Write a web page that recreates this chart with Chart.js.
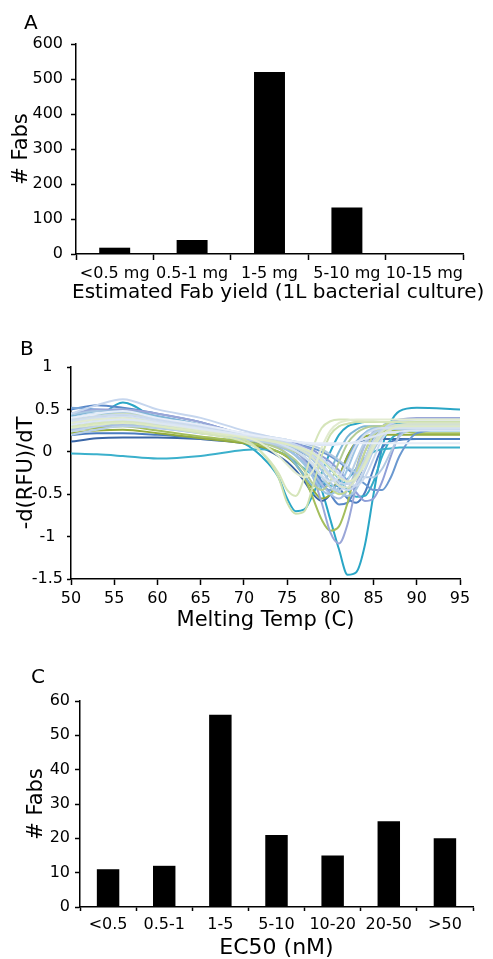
<!DOCTYPE html>
<html>
<head>
<meta charset="utf-8">
<script src="https://cdn.jsdelivr.net/npm/chart.js@4.4.1/dist/chart.umd.min.js"></script>
<style>
  body { margin: 0; background: #fff; }
  #wrap { position: relative; width: 493px; height: 959px; overflow: hidden; font-family: 'DejaVu Sans'; }
  .box { position: absolute; left: 0; width: 493px; }
  .tag { position: absolute; font-size: 20px; line-height: 1; color: #000; }
  .xname { position: absolute; font-size: 20px; line-height: 1; color: #000; white-space: nowrap; }
</style>
</head>
<body>
<div id="wrap">
  <div class="box" style="top:0;height:310px"><canvas id="yieldChart"></canvas></div>
  <div class="box" style="top:310px;height:330px"><canvas id="meltChart"></canvas></div>
  <div class="box" style="top:640px;height:321px"><canvas id="ec50Chart"></canvas></div>
  <div class="tag" style="left:24px;top:12px">A</div>
  <div class="tag" style="left:20px;top:338px">B</div>
  <div class="tag" style="left:31px;top:666px">C</div>
  <div class="xname" style="left:72px;top:281px">Estimated Fab yield (1L bacterial culture)</div>
</div>
<script>
// panel A
const yieldLabels = ['<0.5 mg', '0.5-1 mg', '1-5 mg', '5-10 mg', '10-15 mg'];
const yieldCounts = [18, 40, 520, 133, 0];

// panel C
const ec50Labels = ['<0.5', '0.5-1', '1-5', '5-10', '10-20', '20-50', '>50'];
const ec50Counts = [11, 12, 56, 21, 15, 25, 20];

// panel B - melt curves at these temperatures
const temps = [50, 53, 56, 60, 65, 70, 72, 74, 75, 76, 77, 78, 79, 80, 81, 82, 83, 84, 85, 86, 87, 88, 90, 95];

const tealDeep   = [0.35, 0.40, 0.42, 0.35, 0.25, 0.15, 0.12, 0.08, 0.05, 0.00, -0.08, -0.22, -0.45, -0.80, -1.15, -1.45, -1.42, -1.10, -0.50, 0.05, 0.35, 0.48, 0.52, 0.50];
const lavDeep    = [0.45, 0.50, 0.50, 0.45, 0.35, 0.20, 0.15, 0.10, 0.05, 0.00, -0.10, -0.30, -0.60, -0.95, -1.08, -0.85, -0.40, 0.00, 0.20, 0.30, 0.35, 0.38, 0.40, 0.40];
const greenDeep  = [0.25, 0.28, 0.30, 0.25, 0.18, 0.12, 0.08, 0.00, -0.05, -0.15, -0.30, -0.55, -0.80, -0.93, -0.88, -0.60, -0.20, 0.10, 0.20, 0.24, 0.25, 0.25, 0.22, 0.22];
const tealEarly  = [0.30, 0.40, 0.58, 0.38, 0.25, 0.10, -0.05, -0.30, -0.55, -0.70, -0.68, -0.50, -0.25, 0.00, 0.20, 0.30, 0.33, 0.35, 0.35, 0.35, 0.34, 0.33, 0.32, 0.30];
const mintEarly  = [0.38, 0.42, 0.45, 0.38, 0.28, 0.15, 0.00, -0.30, -0.60, -0.73, -0.70, -0.40, -0.05, 0.20, 0.30, 0.33, 0.35, 0.35, 0.35, 0.35, 0.35, 0.35, 0.35, 0.35];
const mintFast   = [0.30, 0.34, 0.36, 0.30, 0.22, 0.12, 0.00, -0.25, -0.45, -0.52, -0.30, 0.05, 0.28, 0.36, 0.38, 0.38, 0.37, 0.36, 0.36, 0.35, 0.35, 0.35, 0.34, 0.34];
const tealLow    = [-0.02, -0.03, -0.05, -0.08, -0.05, 0.02, 0.03, 0.00, -0.05, -0.12, -0.20, -0.28, -0.35, -0.40, -0.40, -0.32, -0.20, -0.08, 0.00, 0.03, 0.04, 0.05, 0.05, 0.05];
const navy       = [0.12, 0.16, 0.17, 0.17, 0.15, 0.10, 0.05, -0.05, -0.12, -0.22, -0.35, -0.50, -0.58, -0.50, -0.30, -0.05, 0.10, 0.14, 0.15, 0.15, 0.15, 0.15, 0.15, 0.15];
const blueMid    = [0.50, 0.55, 0.52, 0.45, 0.35, 0.20, 0.15, 0.10, 0.05, 0.00, -0.08, -0.20, -0.35, -0.50, -0.62, -0.60, -0.40, -0.10, 0.15, 0.25, 0.28, 0.30, 0.30, 0.30];
const paleHigh   = [0.45, 0.55, 0.62, 0.50, 0.40, 0.25, 0.20, 0.15, 0.12, 0.08, 0.02, -0.05, -0.15, -0.28, -0.40, -0.45, -0.38, -0.20, 0.05, 0.25, 0.33, 0.36, 0.38, 0.38];
const lavLate    = [0.35, 0.40, 0.42, 0.38, 0.30, 0.20, 0.17, 0.14, 0.12, 0.10, 0.06, 0.02, -0.05, -0.12, -0.22, -0.35, -0.48, -0.58, -0.55, -0.35, -0.05, 0.20, 0.30, 0.30];
const skyMid     = [0.40, 0.45, 0.45, 0.38, 0.28, 0.18, 0.14, 0.08, 0.03, -0.05, -0.15, -0.30, -0.45, -0.50, -0.42, -0.20, 0.05, 0.22, 0.28, 0.30, 0.30, 0.30, 0.30, 0.30];
const olive      = [0.22, 0.25, 0.26, 0.22, 0.16, 0.10, 0.06, 0.00, -0.06, -0.15, -0.28, -0.45, -0.55, -0.50, -0.30, -0.05, 0.12, 0.18, 0.20, 0.20, 0.20, 0.20, 0.20, 0.20];
const tealLate   = [0.28, 0.32, 0.33, 0.30, 0.24, 0.16, 0.13, 0.10, 0.08, 0.05, 0.02, -0.03, -0.10, -0.20, -0.32, -0.45, -0.53, -0.52, -0.35, -0.05, 0.15, 0.22, 0.25, 0.25];
const steelLate  = [0.35, 0.38, 0.40, 0.36, 0.30, 0.22, 0.19, 0.16, 0.14, 0.12, 0.10, 0.07, 0.03, -0.03, -0.10, -0.18, -0.25, -0.30, -0.30, -0.20, 0.00, 0.18, 0.28, 0.30];
const paleFlat   = [0.32, 0.36, 0.38, 0.34, 0.27, 0.20, 0.18, 0.16, 0.14, 0.12, 0.10, 0.09, 0.08, 0.08, 0.09, 0.10, 0.12, 0.15, 0.18, 0.21, 0.23, 0.24, 0.25, 0.25];
const limeMid    = [0.33, 0.36, 0.37, 0.32, 0.24, 0.16, 0.12, 0.08, 0.04, 0.00, -0.06, -0.15, -0.28, -0.42, -0.50, -0.45, -0.25, 0.00, 0.20, 0.30, 0.34, 0.35, 0.35, 0.35];
const blueLate   = [0.20, 0.22, 0.22, 0.20, 0.16, 0.12, 0.10, 0.07, 0.05, 0.02, -0.02, -0.08, -0.16, -0.28, -0.42, -0.55, -0.60, -0.48, -0.20, 0.05, 0.12, 0.14, 0.15, 0.15];
const skyEarly   = [0.42, 0.48, 0.50, 0.42, 0.32, 0.20, 0.14, 0.05, -0.03, -0.15, -0.28, -0.40, -0.38, -0.22, 0.00, 0.18, 0.26, 0.30, 0.30, 0.30, 0.30, 0.30, 0.30, 0.30];
const greenPale  = [0.28, 0.32, 0.34, 0.30, 0.24, 0.17, 0.14, 0.11, 0.09, 0.06, 0.03, -0.02, -0.10, -0.20, -0.30, -0.35, -0.30, -0.15, 0.05, 0.20, 0.27, 0.30, 0.30, 0.30];
const blueLast   = [0.30, 0.34, 0.35, 0.32, 0.26, 0.18, 0.16, 0.13, 0.11, 0.09, 0.07, 0.04, 0.00, -0.05, -0.12, -0.20, -0.30, -0.38, -0.45, -0.45, -0.30, -0.05, 0.22, 0.28];
const whiteFlat  = [0.40, 0.45, 0.48, 0.40, 0.32, 0.22, 0.18, 0.15, 0.13, 0.12, 0.11, 0.10, 0.10, 0.10, 0.10, 0.10, 0.10, 0.10, 0.10, 0.10, 0.10, 0.10, 0.10, 0.10];
const iceMid     = [0.36, 0.40, 0.42, 0.36, 0.28, 0.19, 0.15, 0.10, 0.06, 0.01, -0.06, -0.15, -0.28, -0.35, -0.30, -0.12, 0.08, 0.20, 0.26, 0.28, 0.28, 0.28, 0.28, 0.28];
const periMid    = [0.26, 0.30, 0.32, 0.28, 0.22, 0.15, 0.11, 0.06, 0.02, -0.04, -0.12, -0.24, -0.38, -0.50, -0.55, -0.45, -0.20, 0.08, 0.24, 0.30, 0.32, 0.32, 0.32, 0.32];
const sageMid    = [0.30, 0.33, 0.35, 0.30, 0.23, 0.15, 0.11, 0.04, -0.02, -0.10, -0.22, -0.38, -0.45, -0.35, -0.12, 0.10, 0.22, 0.28, 0.30, 0.30, 0.30, 0.30, 0.30, 0.30];
const frostLate  = [0.38, 0.42, 0.44, 0.38, 0.30, 0.22, 0.18, 0.14, 0.11, 0.08, 0.04, -0.01, -0.08, -0.16, -0.26, -0.36, -0.40, -0.30, -0.08, 0.15, 0.26, 0.30, 0.32, 0.32];
const cornHigh   = [0.52, 0.50, 0.48, 0.42, 0.32, 0.20, 0.15, 0.08, 0.03, -0.04, -0.14, -0.28, -0.40, -0.45, -0.35, -0.10, 0.12, 0.22, 0.26, 0.28, 0.28, 0.28, 0.28, 0.28];
const creamEarly = [0.34, 0.38, 0.40, 0.34, 0.26, 0.18, 0.10, -0.05, -0.15, -0.25, -0.30, -0.22, 0.05, 0.25, 0.34, 0.37, 0.38, 0.38, 0.38, 0.38, 0.38, 0.38, 0.38, 0.38];
const mistA      = [0.24, 0.30, 0.36, 0.32, 0.26, 0.18, 0.15, 0.12, 0.10, 0.07, 0.03, -0.04, -0.14, -0.26, -0.36, -0.38, -0.28, -0.08, 0.14, 0.26, 0.30, 0.31, 0.31, 0.31];
const mistB      = [0.20, 0.26, 0.30, 0.28, 0.22, 0.15, 0.12, 0.08, 0.05, 0.01, -0.06, -0.16, -0.30, -0.42, -0.46, -0.34, -0.10, 0.12, 0.22, 0.26, 0.27, 0.27, 0.27, 0.27];
const mossPale   = [0.36, 0.40, 0.38, 0.33, 0.27, 0.19, 0.16, 0.12, 0.09, 0.05, 0.00, -0.08, -0.18, -0.30, -0.40, -0.42, -0.32, -0.12, 0.10, 0.24, 0.30, 0.32, 0.33, 0.33];
const bayBlue    = [0.44, 0.48, 0.46, 0.40, 0.30, 0.20, 0.16, 0.11, 0.08, 0.04, -0.02, -0.10, -0.22, -0.36, -0.48, -0.52, -0.44, -0.22, 0.02, 0.18, 0.26, 0.30, 0.30, 0.30];

// first in list is drawn on top, so pale ones go first
const meltCurves = [
  [whiteFlat, '#e6edf8'], [paleFlat, '#dce6f4'], [creamEarly, '#e2ebd0'], [greenPale, '#dde9c4'],
  [iceMid, '#d2dff0'], [mossPale, '#d6e2cc'], [mintFast, '#d6e5ba'], [paleHigh, '#c6d6ee'],
  [frostLate, '#cbd9ee'], [mistA, '#c0d4ea'], [mintEarly, '#cde0ae'], [mistB, '#b8cfe6'],
  [steelLate, '#b2c9e2'], [limeMid, '#c4d994'], [sageMid, '#b4cc96'], [bayBlue, '#a9c7e2'],
  [skyMid, '#9cc4e4'], [periMid, '#a8bce2'], [lavDeep, '#9aa6d8'], [lavLate, '#8f9fd8'],
  [skyEarly, '#7db6d6'], [cornHigh, '#78a6d8'], [blueLast, '#6a98d0'], [greenDeep, '#a4be5c'],
  [olive, '#94ac3c'], [blueMid, '#5a88c8'], [tealLate, '#34acc8'], [tealLow, '#3bb0cc'],
  [tealEarly, '#2aa6c6'], [blueLate, '#4a7cc0'], [navy, '#3a66a6'], [tealDeep, '#2aa6c6']
];

Chart.defaults.font.family = "'DejaVu Sans'";
Chart.defaults.color = '#000';

function axisLines(tickLen) {
  return {
    border: { display: true, color: '#000', width: 1.5 },
    grid: { drawOnChartArea: false, drawTicks: true, tickLength: tickLen, tickWidth: 1.5, color: '#000' }
  };
}

function barConfig(labels, counts, opts) {
  return {
    type: 'bar',
    data: {
      labels: labels,
      datasets: [{
        data: counts,
        backgroundColor: '#000',
        borderWidth: 0,
        barPercentage: 0.4,
        categoryPercentage: 1
      }]
    },
    options: {
      responsive: true,
      maintainAspectRatio: false,
      animation: false,
      layout: { padding: opts.padding },
      plugins: { legend: { display: false }, tooltip: { enabled: false } },
      scales: {
        x: {
          ...axisLines(opts.xTick),
          ticks: { font: { size: 16 }, padding: opts.xPad, maxRotation: 0, autoSkip: false },
          // the long panel A name is set in the page instead, it is wider than the axis
          title: { display: !!opts.xTitle, text: opts.xTitle, font: { size: 22 }, padding: { top: 0, bottom: opts.xTitlePad } },
          afterFit: s => { s.height = opts.xHeight; }
        },
        y: {
          ...axisLines(5),
          min: 0,
          max: opts.yMax,
          ticks: { stepSize: opts.yStep, font: { size: 16 }, padding: opts.yPad },
          title: { display: true, text: '# Fabs', font: { size: 21 }, padding: { top: opts.yTitlePad, bottom: 0 } },
          afterFit: s => { s.width = opts.yWidth; }
        }
      }
    }
  };
}

function meltConfig() {
  const datasets = meltCurves.map(([vals, color]) => ({
    data: vals.map((v, i) => ({ x: temps[i], y: v })),
    borderColor: color,
    borderWidth: 2,
    pointRadius: 0,
    fill: false,
    cubicInterpolationMode: 'monotone'
  }));
  return {
    type: 'line',
    data: { datasets: datasets },
    options: {
      responsive: true,
      maintainAspectRatio: false,
      animation: false,
      layout: { padding: { top: 57, right: 33, left: 0, bottom: 0 } },
      plugins: { legend: { display: false }, tooltip: { enabled: false } },
      scales: {
        x: {
          ...axisLines(6),
          type: 'linear',
          min: 50,
          max: 95,
          ticks: { stepSize: 5, font: { size: 16 }, padding: 4, maxRotation: 0 },
          title: { display: true, text: 'Melting Temp (C)', font: { size: 21 }, padding: { top: 0, bottom: 7 } },
          afterFit: s => { s.height = 61; }
        },
        y: {
          ...axisLines(4),
          min: -1.5,
          max: 1,
          ticks: { stepSize: 0.5, font: { size: 16 }, padding: 4, crossAlign: 'center', callback: v => String(v) },
          title: { display: true, text: '-d(RFU)/dT', font: { size: 21 }, padding: { top: 14, bottom: 0 } },
          afterFit: s => { s.width = 71; }
        }
      }
    }
  };
}

new Chart(document.getElementById('yieldChart'), barConfig(yieldLabels, yieldCounts, {
  padding: { top: 44, right: 30, left: 0, bottom: 0 },
  xTick: 6, xPad: 4, xTitle: '', xTitlePad: 0, xHeight: 56,
  yMax: 600, yStep: 100, yPad: 8, yTitlePad: 9, yWidth: 76
}));

new Chart(document.getElementById('meltChart'), meltConfig());

new Chart(document.getElementById('ec50Chart'), barConfig(ec50Labels, ec50Counts, {
  padding: { top: 61, right: 20, left: 0, bottom: 0 },
  xTick: 4, xPad: 4, xTitle: 'EC50 (nM)', xTitlePad: 0, xHeight: 54,
  yMax: 60, yStep: 10, yPad: 5, yTitlePad: 24, yWidth: 80
}));
</script>
</body>
</html>
